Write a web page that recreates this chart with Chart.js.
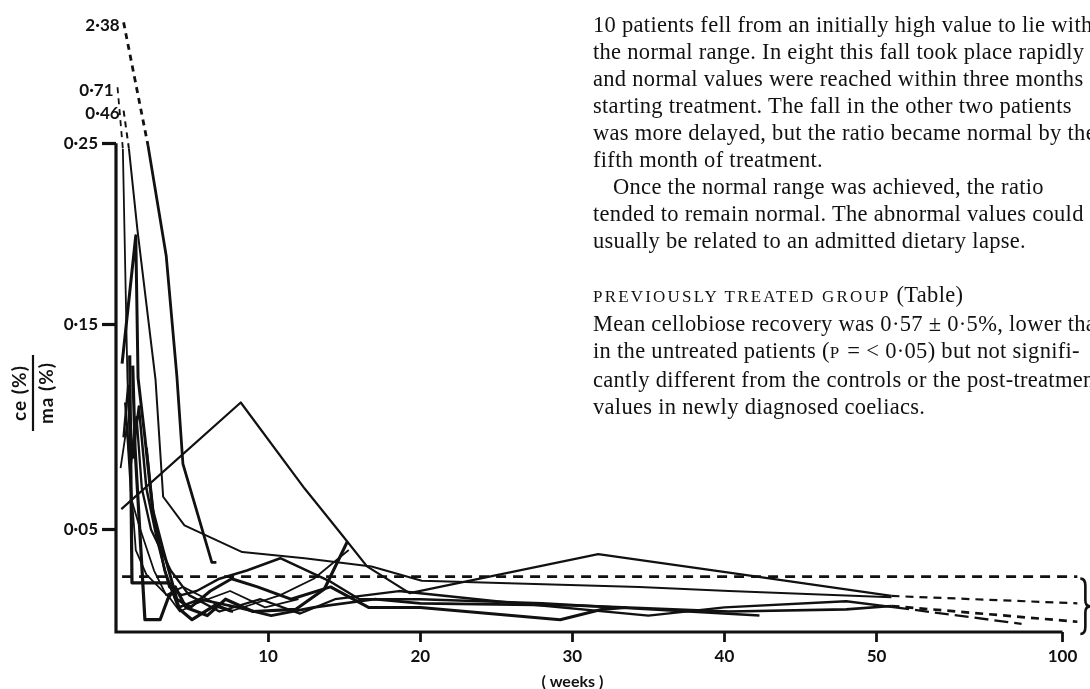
<!DOCTYPE html>
<html>
<head>
<meta charset="utf-8">
<script src="https://cdn.jsdelivr.net/npm/chart.js@4.4.1/dist/chart.umd.min.js"></script>
<style>
  html, body { margin: 0; padding: 0; background: #fff; }
  #wrap { position: relative; width: 1090px; height: 689px; overflow: hidden; }
  #chart { position: absolute; left: 0; top: 0; }
  #text {
    position: absolute; left: 593px; top: 11px;
    font-family: "Liberation Serif", "DejaVu Serif", serif;
    font-size: 22.5px; letter-spacing: 0.3px; line-height: 27px; color: #111;
    white-space: nowrap;
  }
  #text .indent { padding-left: 20px; }
  #text .sc { font-size: 17px; letter-spacing: 2.2px; }
  #text .gap { height: 27px; }
</style>
</head>
<body>
<div id="wrap">
  <canvas id="chart" width="1090" height="689"></canvas>
  <div id="text">
    <div>10 patients fell from an initially high value to lie within</div>
    <div>the normal range. In eight this fall took place rapidly</div>
    <div>and normal values were reached within three months of</div>
    <div>starting treatment. The fall in the other two patients</div>
    <div>was more delayed, but the ratio became normal by the</div>
    <div>fifth month of treatment.</div>
    <div class="indent">Once the normal range was achieved, the ratio</div>
    <div>tended to remain normal. The abnormal values could</div>
    <div>usually be related to an admitted dietary lapse.</div>
    <div class="gap"></div>
    <div><span class="sc">PREVIOUSLY TREATED GROUP</span> (Table)</div>
    <div>Mean cellobiose recovery was 0·57 ± 0·5%, lower than</div>
    <div>in the untreated patients (<span class="sc">P</span> = &lt; 0·05) but not signifi-</div>
    <div>cantly different from the controls or the post-treatment</div>
    <div>values in newly diagnosed coeliacs.</div>
  </div>
</div>
<script>
// cellobiose/mannitol ratio for each patient, as [week of treatment, ratio]
const patientA = [[0.5, 2.38], [2.1, 0.249], [3.3, 0.188], [4.0, 0.125], [4.4, 0.082], [6.3, 0.034], [6.6, 0.034]];
const patientB = [[0.5, 0.46], [0.85, 0.247], [1.4, 0.203], [2.6, 0.123], [3.1, 0.066], [4.5, 0.052], [8.3, 0.039], [12.4, 0.036], [16.8, 0.032], [20.1, 0.025], [34.4, 0.022], [40.3, 0.020], [54, 0.017]];
const patientC = [[0.1, 0.71], [0.45, 0.247], [0.75, 0.124], [1.0, 0.07], [1.3, 0.04], [2.0, 0.028], [3.6, 0.016], [4.2, 0.010], [5.3, 0.014], [7.5, 0.020], [9.8, 0.012], [12, 0.016]];
const patientD = [[0.9, 0.135], [1.05, 0.024], [3.5, 0.024], [4.2, 0.011], [5.0, 0.006], [6.5, 0.013], [7.7, 0.010]];
const patientE = [[1.1, 0.13], [1.25, 0.09], [1.9, 0.006], [2.9, 0.006], [3.4, 0.016], [3.9, 0.022], [4.6, 0.012], [6.0, 0.008], [7.2, 0.016], [9.0, 0.010], [11.8, 0.011], [13.7, 0.021], [15.2, 0.044]];
const patientF = [[0.4, 0.131], [1.3, 0.199], [1.45, 0.124], [1.9, 0.095], [2.4, 0.06], [3.1, 0.04], [4.0, 0.016], [4.9, 0.012], [6.2, 0.02], [7.6, 0.026], [9.3, 0.022], [11.5, 0.016], [14.1, 0.022], [16.6, 0.012], [20, 0.012], [29.2, 0.006], [31.9, 0.011], [33.5, 0.012]];
const patientG = [[0.35, 0.06], [8.2, 0.112], [12.4, 0.07], [14.9, 0.047], [16.5, 0.032], [19.3, 0.019], [31.7, 0.038], [40.3, 0.029], [54, 0.0176], [104, 0.014]];
const patientH = [[0.6, 0.112], [0.95, 0.08], [1.35, 0.105], [1.7, 0.07], [2.3, 0.05], [3.6, 0.03], [4.8, 0.018], [6.8, 0.01], [9.5, 0.016], [12.1, 0.009], [14.4, 0.016], [18.6, 0.02], [25, 0.015], [35, 0.008], [40, 0.012], [48, 0.015], [55, 0.012], [89, 0.004]];
const patientI = [[0.5, 0.095], [0.8, 0.12], [1.1, 0.085], [1.5, 0.11], [2.0, 0.07], [2.7, 0.045], [3.5, 0.022], [4.3, 0.018], [5.3, 0.02], [6.8, 0.026], [8.6, 0.03], [10.8, 0.036], [14.0, 0.025], [16.0, 0.016], [20.0, 0.016], [28, 0.014], [42.3, 0.008]];
const patientJ = [[0.3, 0.08], [0.7, 0.10], [1.0, 0.065], [1.6, 0.05], [2.5, 0.03], [3.3, 0.018], [4.4, 0.022], [6.0, 0.016], [7.5, 0.010], [10.8, 0.018], [13, 0.026], [15.3, 0.040]];
const patientK = [[2.0, 0.09], [2.5, 0.055], [3.2, 0.03], [4.1, 0.012], [5.5, 0.016], [8.0, 0.012], [10.2, 0.008], [13, 0.012], [17, 0.016], [20, 0.014], [30, 0.013], [40.3, 0.010], [48, 0.011], [54, 0.0127], [104, 0.005]];

// upper limit of the normal range
const normalUpper = [[0.4, 0.027], [104, 0.027]];

const weekTicks = [10, 20, 30, 40, 50, 100];
const ratioTicks = [0.05, 0.15, 0.25];

// the week axis is compressed after 50 weeks, the ratio axis above 0.15,
// and values beyond 0.25 go into a log-scaled break at the top
function weekPos(w) {
  return w <= 50 ? w : 50 + (w - 50) * 0.2444;
}
function ratioPos(v) {
  if (v <= 0.15) return v;
  if (v <= 0.25) return 0.15 + (v - 0.15) * 0.885;
  return 0.2385 + 0.0603 * Math.log10(v / 0.25);
}
function dotted(n) {
  return n.toFixed(2).replace('.', '·');
}

const series = [
  { data: patientA, width: 2.8 },
  { data: patientB, width: 2 },
  { data: patientC, width: 1.8 },
  { data: patientD, width: 3.2 },
  { data: patientE, width: 3.2 },
  { data: patientF, width: 3 },
  { data: patientG, width: 2.2, tail: [8, 6] },
  { data: patientH, width: 2.3, tail: [14, 6] },
  { data: patientI, width: 2.5 },
  { data: patientJ, width: 1.8 },
  { data: patientK, width: 2.7, tail: [8, 6] }
];

const ink = '#111';

const datasets = series.map(s => {
  const n = s.data.length;
  const offScale = s.data[0][1] > 0.25;
  return {
    data: s.data.map(([w, v]) => ({ x: weekPos(w), y: ratioPos(v) })),
    showLine: true,
    borderColor: ink,
    borderWidth: s.width,
    pointRadius: 0,
    borderJoinStyle: 'round',
    offScaleValue: offScale ? s.data[0][1] : null,
    segment: {
      borderDash: ctx => {
        if (offScale && ctx.p0DataIndex === 0) return [6, 5];
        if (s.tail && ctx.p1DataIndex === n - 1) return s.tail;
        return undefined;
      }
    }
  };
});

datasets.push({
  data: normalUpper.map(([w, v]) => ({ x: weekPos(w), y: ratioPos(v) })),
  showLine: true,
  borderColor: ink,
  borderWidth: 2.8,
  borderDash: [10, 7],
  pointRadius: 0
});

const tickFont = { family: 'Lato', size: 17, weight: 'bold' };

// axis lines, off-scale labels, axis titles and the normal-range brace
const extras = {
  id: 'extras',
  afterDraw(chart) {
    const { ctx, scales: { x, y } } = chart;
    const x0 = x.getPixelForValue(0);
    const y0 = y.getPixelForValue(0);
    ctx.save();
    ctx.strokeStyle = ink;
    ctx.fillStyle = ink;

    ctx.lineWidth = 3.2;
    ctx.beginPath();
    ctx.moveTo(x0, y.getPixelForValue(ratioPos(0.25)));
    ctx.lineTo(x0, y0);
    ctx.lineTo(x.getPixelForValue(weekPos(100)), y0);
    ctx.stroke();

    // values above the top of the scale are written beside their line
    ctx.font = 'bold 17px Lato';
    ctx.textAlign = 'right';
    ctx.textBaseline = 'middle';
    chart.data.datasets.forEach((ds, i) => {
      if (!ds.offScaleValue) return;
      const p = chart.getDatasetMeta(i).data[0];
      ctx.fillText(dotted(ds.offScaleValue), p.x - 4, p.y + 3);
    });

    // normal range brace at the right end
    const bx = x.getPixelForValue(weekPos(104)) + 3;
    const top = y.getPixelForValue(normalUpper[1][1]) + 2;
    const bot = y0 + 2;
    const mid = (top + bot) / 2;
    ctx.lineWidth = 2.6;
    ctx.beginPath();
    ctx.moveTo(bx, top);
    ctx.quadraticCurveTo(bx + 5, top, bx + 5, top + 7);
    ctx.lineTo(bx + 5, mid - 6);
    ctx.quadraticCurveTo(bx + 5, mid, bx + 10, mid);
    ctx.quadraticCurveTo(bx + 5, mid, bx + 5, mid + 6);
    ctx.lineTo(bx + 5, bot - 7);
    ctx.quadraticCurveTo(bx + 5, bot, bx, bot);
    ctx.stroke();

    // x title
    ctx.textAlign = 'center';
    ctx.textBaseline = 'middle';
    ctx.font = 'bold 16px Lato';
    ctx.fillText('( weeks )', x.getPixelForValue(30), 682);

    // y title as a fraction, turned on its side
    ctx.translate(33, 393);
    ctx.rotate(-Math.PI / 2);
    ctx.font = 'bold 19px Lato';
    ctx.letterSpacing = '1px';
    ctx.textBaseline = 'bottom';
    ctx.fillText('ce (%)', 0, -4);
    ctx.textBaseline = 'top';
    ctx.fillText('ma (%)', 0, 4);
    ctx.lineWidth = 2.2;
    ctx.beginPath();
    ctx.moveTo(-38, 0);
    ctx.lineTo(38, 0);
    ctx.stroke();
    ctx.restore();
  }
};

new Chart(document.getElementById('chart'), {
  type: 'scatter',
  data: { datasets: datasets },
  options: {
    responsive: false,
    animation: false,
    layout: { padding: { top: 14, right: 5, left: 0, bottom: 0 } },
    plugins: { legend: { display: false }, tooltip: { enabled: false } },
    scales: {
      x: {
        type: 'linear',
        min: 0,
        max: 63.7,
        afterBuildTicks: s => { s.ticks = weekTicks.map(w => ({ value: weekPos(w) })); },
        afterFit: s => { s.height = 57; },
        ticks: {
          autoSkip: false,
          maxRotation: 0,
          padding: 4,
          color: ink,
          font: tickFont,
          callback: (val, i) => String(weekTicks[i])
        },
        grid: { drawOnChartArea: false, tickLength: 10, tickWidth: 2.8, tickColor: ink },
        border: { display: false }
      },
      y: {
        type: 'linear',
        min: 0,
        max: 0.3015,
        afterBuildTicks: s => { s.ticks = ratioTicks.map(v => ({ value: ratioPos(v) })); },
        afterFit: s => { s.width = 116; },
        ticks: {
          padding: 4,
          color: ink,
          font: tickFont,
          callback: (val, i) => dotted(ratioTicks[i])
        },
        grid: { drawOnChartArea: false, tickLength: 14, tickWidth: 3.2, tickColor: ink },
        border: { display: false }
      }
    }
  },
  plugins: [extras]
});
</script>
</body>
</html>
